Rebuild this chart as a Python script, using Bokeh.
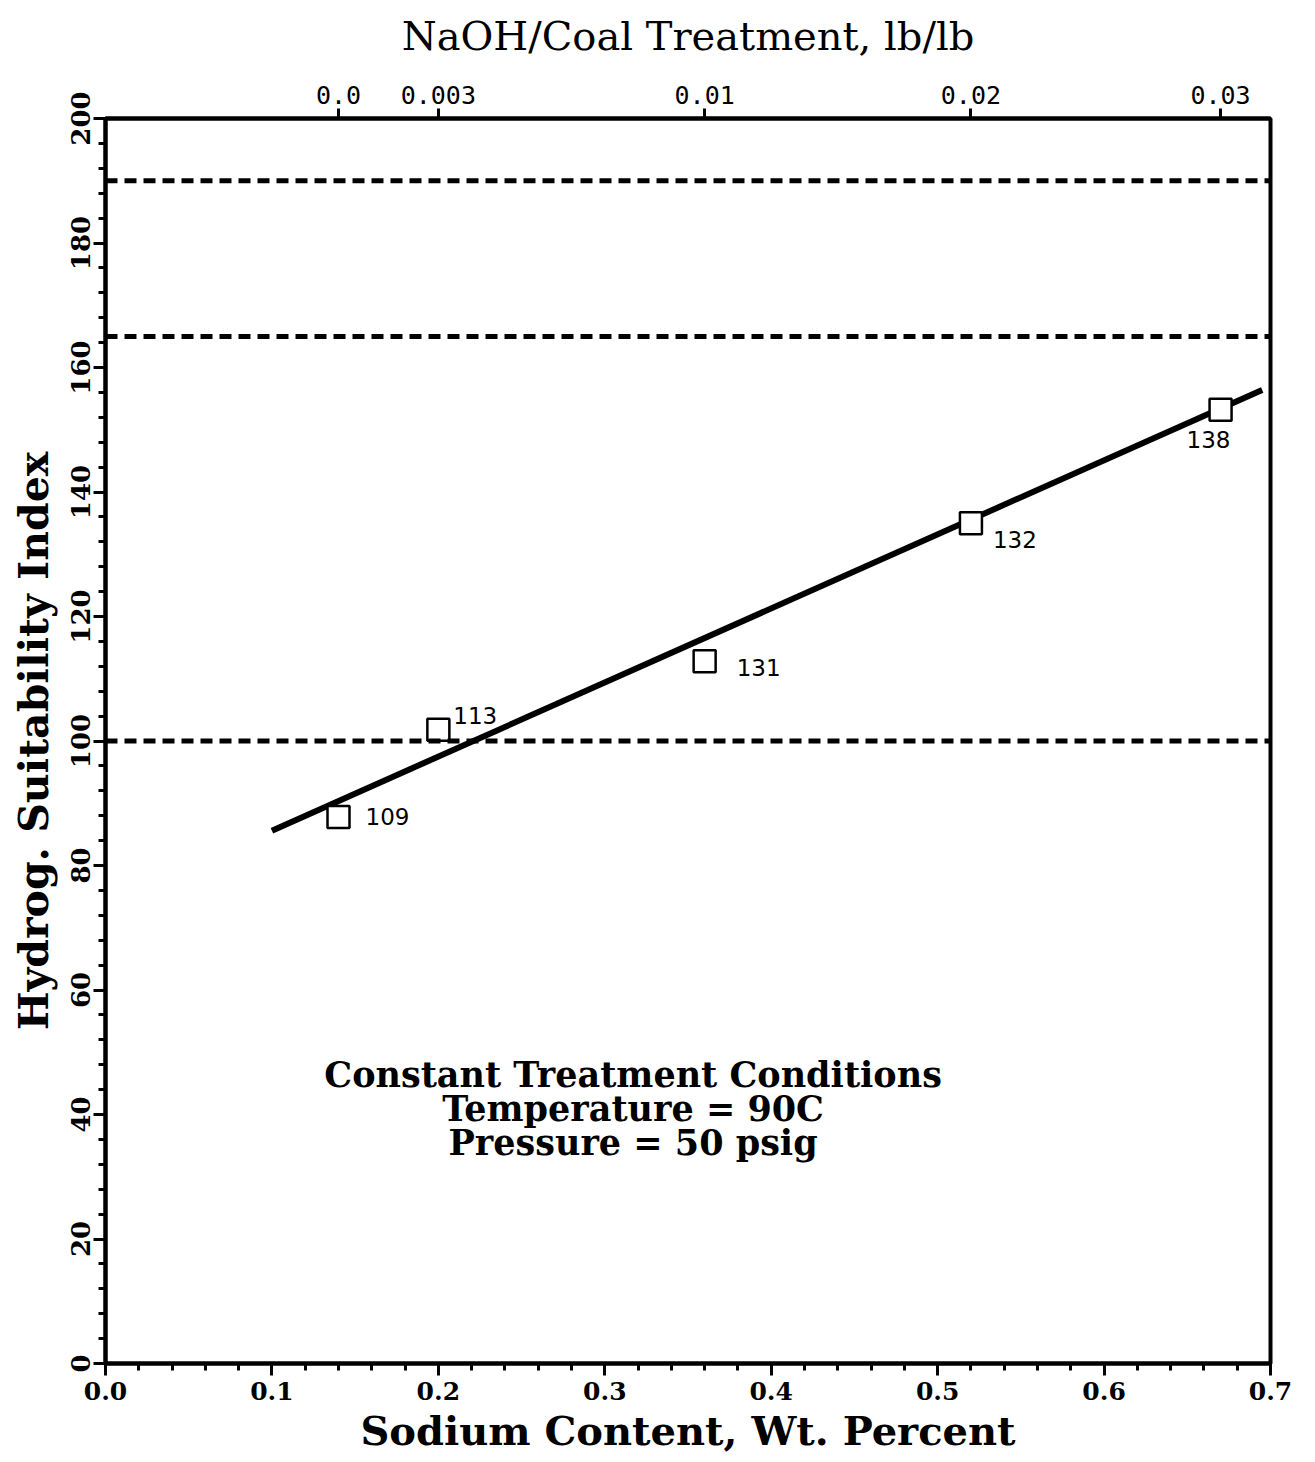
from bokeh.plotting import figure
from bokeh.models import (LinearAxis, FixedTicker, Span, Label,
                          PrintfTickFormatter, Range1d, ColumnDataSource)
from bokeh.core.properties import value
from bokeh.embed import file_html
from bokeh.resources import INLINE

# Measured points: sodium content (wt %) vs. hydrogenation suitability index
sodium = [0.14, 0.20, 0.36, 0.52, 0.67]
hsi = [87.8, 101.8, 112.8, 135.0, 153.2]
point_labels = ["109", "113", "131", "132", "138"]

# Caustic treatment level corresponding to each sodium content (top axis)
naoh_labels = ["0.0", "0.003", "0.01", "0.02", "0.03"]

# Least-squares line through the points
fit_x = [0.10, 0.695]
fit_y = [85.6, 156.4]

# Reference levels
ref_levels = [190, 165, 100]

# Axis ticks
x_major = [0.0, 0.1, 0.2, 0.3, 0.4, 0.5, 0.6, 0.7]
x_minor = [i / 50 for i in range(36)]
y_major = [0, 20, 40, 60, 80, 100, 120, 140, 160, 180, 200]
y_minor = list(range(0, 201, 4))

notes = ["Constant Treatment Conditions", "Temperature = 90C", "Pressure = 50 psig"]

p = figure(width=1315, height=1462, output_backend="svg", toolbar_location=None,
           x_range=Range1d(0, 0.7), y_range=Range1d(0, 200),
           min_border_left=105, min_border_right=45, min_border_top=118, min_border_bottom=99,
           x_axis_location="below", y_axis_location="left")
p.grid.visible = False
p.background_fill_color = "white"
p.border_fill_color = "white"
p.outline_line_color = "black"
p.outline_line_width = 4

serif = "DejaVu Serif"

# bottom axis
xa = p.xaxis[0]
xa.ticker = FixedTicker(ticks=x_major, minor_ticks=x_minor)
xa.formatter = PrintfTickFormatter(format="%.1f")
xa.axis_label = "Sodium Content, Wt. Percent"
xa.axis_label_text_font_style = "bold"
xa.axis_label_text_font_size = "40px"
xa.axis_label_standoff = 4
xa.major_label_text_font_size = "25px"
xa.major_label_standoff = 6

# left axis
ya = p.yaxis[0]
ya.ticker = FixedTicker(ticks=y_major, minor_ticks=y_minor)
ya.axis_label = "Hydrog. Suitability Index"
ya.axis_label_text_font_style = "bold"
ya.axis_label_text_font_size = "41px"
ya.axis_label_standoff = 10
ya.major_label_orientation = "vertical"
ya.major_label_text_font_size = "26px"
ya.major_label_standoff = 4

for ax in (xa, ya):
    ax.axis_label_text_font = serif
    ax.major_label_text_font = serif
    ax.major_label_text_font_style = "bold"
    ax.axis_line_width = 4
    ax.axis_line_color = "black"
    ax.major_tick_line_width = 3
    ax.minor_tick_line_width = 3
    ax.major_tick_out = 12
    ax.major_tick_in = 0
    ax.minor_tick_out = 7
    ax.minor_tick_in = 0
    ax.major_label_text_color = "black"
    ax.axis_label_text_color = "black"

# top axis: NaOH/coal treatment
top = LinearAxis(ticker=FixedTicker(ticks=sodium, minor_ticks=[]),
                 major_label_overrides={s: t for s, t in zip(sodium, naoh_labels)})
top.axis_label = "NaOH/Coal Treatment, lb/lb"
top.axis_label_text_font = serif
top.axis_label_text_font_style = "normal"
top.axis_label_text_font_size = "40px"
top.axis_label_text_color = "black"
top.axis_label_standoff = 24
top.major_label_text_font = "DejaVu Sans Mono"
top.major_label_text_font_size = "25px"
top.major_label_text_color = "black"
top.major_label_standoff = 5
top.axis_line_width = 4
top.major_tick_line_width = 3
top.major_tick_out = 10
top.major_tick_in = 0
p.add_layout(top, "above")

# reference levels
for lvl in ref_levels:
    p.add_layout(Span(location=lvl, dimension="width", line_color="black",
                      line_width=5, line_dash="12 7"))

# fitted line
p.line(fit_x, fit_y, line_color="black", line_width=6)

# data points
p.scatter(sodium, hsi, marker="square", size=22, fill_color="white",
          line_color="black", line_width=2.5)

# point annotations
lbl_src = ColumnDataSource(dict(x=sodium, y=hsi, t=point_labels,
                                dx=[27, 15, 32, 22, -34],
                                dy=[0, -14, 6, 16, 30]))
p.text("x", "y", text="t", source=lbl_src, x_offset="dx", y_offset="dy",
       text_font=value("DejaVu Sans"), text_font_size="23px",
       text_baseline="middle", text_align="left", text_color="black")

# treatment conditions note
for i, line in enumerate(notes):
    p.add_layout(Label(x=0.317, y=46.5, y_offset=-34 * i, text=line,
                       text_font=serif, text_font_style="bold", text_font_size="35px",
                       text_align="center", text_baseline="middle", text_color="black"))

open("out.html", "w").write(file_html(p, INLINE))
